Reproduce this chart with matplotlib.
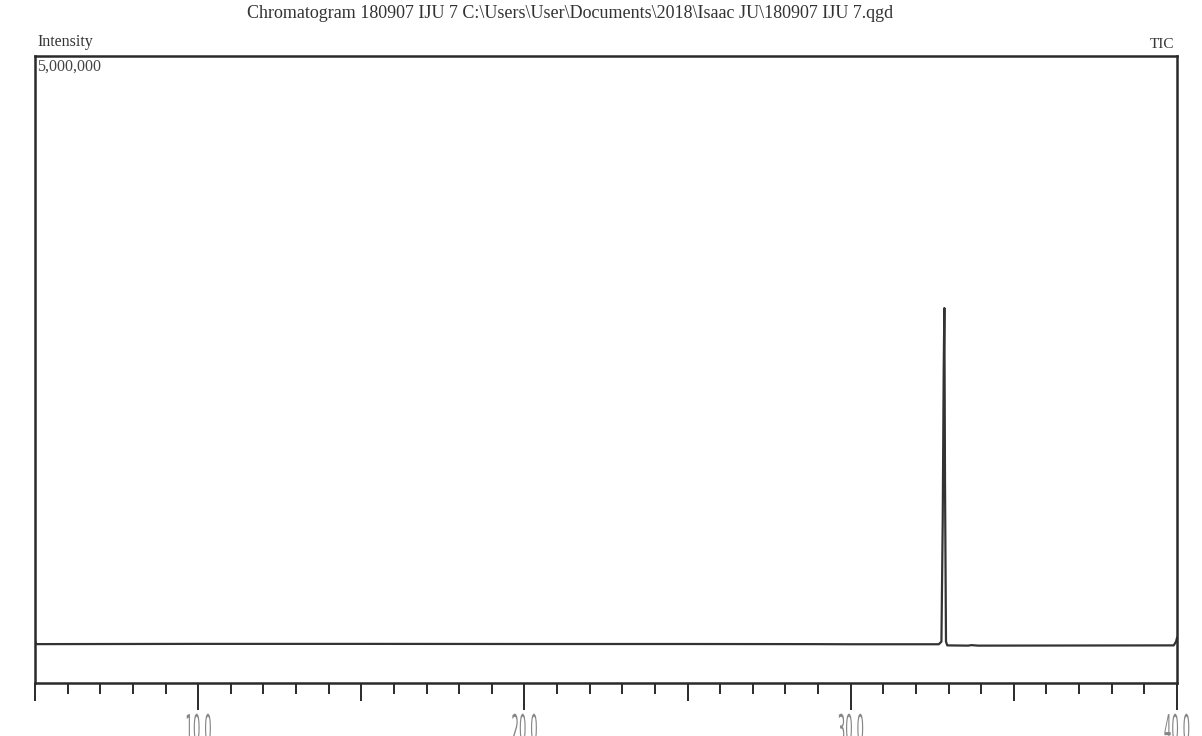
import matplotlib
matplotlib.use("Agg")
import matplotlib.pyplot as plt
import matplotlib.transforms as mtransforms
from matplotlib.patheffects import AbstractPathEffect
from matplotlib.ticker import FixedLocator, FixedFormatter, MultipleLocator

# TIC trace (time in min, intensity in counts)
times = [5.0, 5.03, 10.0, 15.0, 20.0, 25.0, 28.8, 30.0, 32.70, 32.78,
         32.82, 32.85, 32.87, 32.89, 32.92, 32.96, 33.6, 33.7, 33.9, 39.9, 39.97, 40.0]
intensity = [340000, 310000, 312000, 312000, 311000, 311000, 310000, 309000, 309000, 330000,
             1300000, 2500000, 2990000, 1600000, 330000, 300000, 298000, 302000, 298000, 300000,
             330000, 360000]

x_major = [5, 10, 15, 20, 25, 30, 35, 40]
x_labels = ["", "10.0", "", "20.0", "", "30.0", "", "40.0"]

title = "Chromatogram 180907 IJU 7 C:\\Users\\User\\Documents\\2018\\Isaac JU\\180907 IJU 7.qgd"


class Squeeze(AbstractPathEffect):
    # narrow and tall digits like the scanned printout, anchored at the top centre
    def __init__(self, sx=0.5, sy=1.7):
        super().__init__()
        self.sx = sx
        self.sy = sy

    def draw_path(self, renderer, gc, tpath, affine, rgbFace=None):
        ext = tpath.get_extents(affine)
        cx = (ext.x0 + ext.x1) / 2
        top = ext.y1
        squeeze = (mtransforms.Affine2D().translate(-cx, -top)
                   .scale(self.sx, self.sy).translate(cx, top))
        renderer.draw_path(gc, tpath, affine + squeeze, rgbFace)


fig = plt.figure(figsize=(12.02, 7.36), dpi=100)
ax = fig.add_axes([35 / 1202, 1 - 683 / 736, (1177 - 35) / 1202, (683 - 56) / 736])

ax.plot(times, intensity, color="#333333", lw=1.6)
ax.set_xlim(5.0, 40.0)
ax.set_ylim(0, 5000000)

for s in ax.spines.values():
    s.set_linewidth(1.8)
    s.set_color("#2a2a2a")

ax.set_yticks([])
ax.xaxis.set_major_locator(FixedLocator(x_major))
ax.xaxis.set_major_formatter(FixedFormatter(x_labels))
ax.xaxis.set_minor_locator(MultipleLocator(1.0))
ax.tick_params(axis="x", which="minor", length=8, width=1.4, color="#2a2a2a")
ax.tick_params(axis="x", which="major", length=19.5, width=1.4, color="#2a2a2a",
               pad=1.5, labelsize=17, labelcolor="#858585")
for v, tk in zip(x_major, ax.xaxis.get_major_ticks()):
    if v % 10 != 0:
        tk.tick1line.set_markersize(13)
for lb in ax.get_xticklabels():
    lb.set_family("DejaVu Sans")
    lb.set_va("top")
    lb.set_path_effects([Squeeze(0.5, 1.6)])

serif = "Liberation Serif"
fig.text(570 / 1202, 1 - 13 / 736, title, ha="center", va="center",
         fontsize=13, family=serif, color="#333333")
fig.text(37 / 1202, 1 - 42 / 736, "Intensity", ha="left", va="center",
         fontsize=11.5, family=serif, color="#333333")
ax.text(0.002, 0.996, "5,000,000", transform=ax.transAxes, ha="left", va="top",
        fontsize=11.5, family=serif, color="#444444")
fig.text(1174 / 1202, 1 - 44 / 736, "TIC", ha="right", va="center",
         fontsize=11, family=serif, color="#333333")

fig.savefig("out.png", dpi=100)
